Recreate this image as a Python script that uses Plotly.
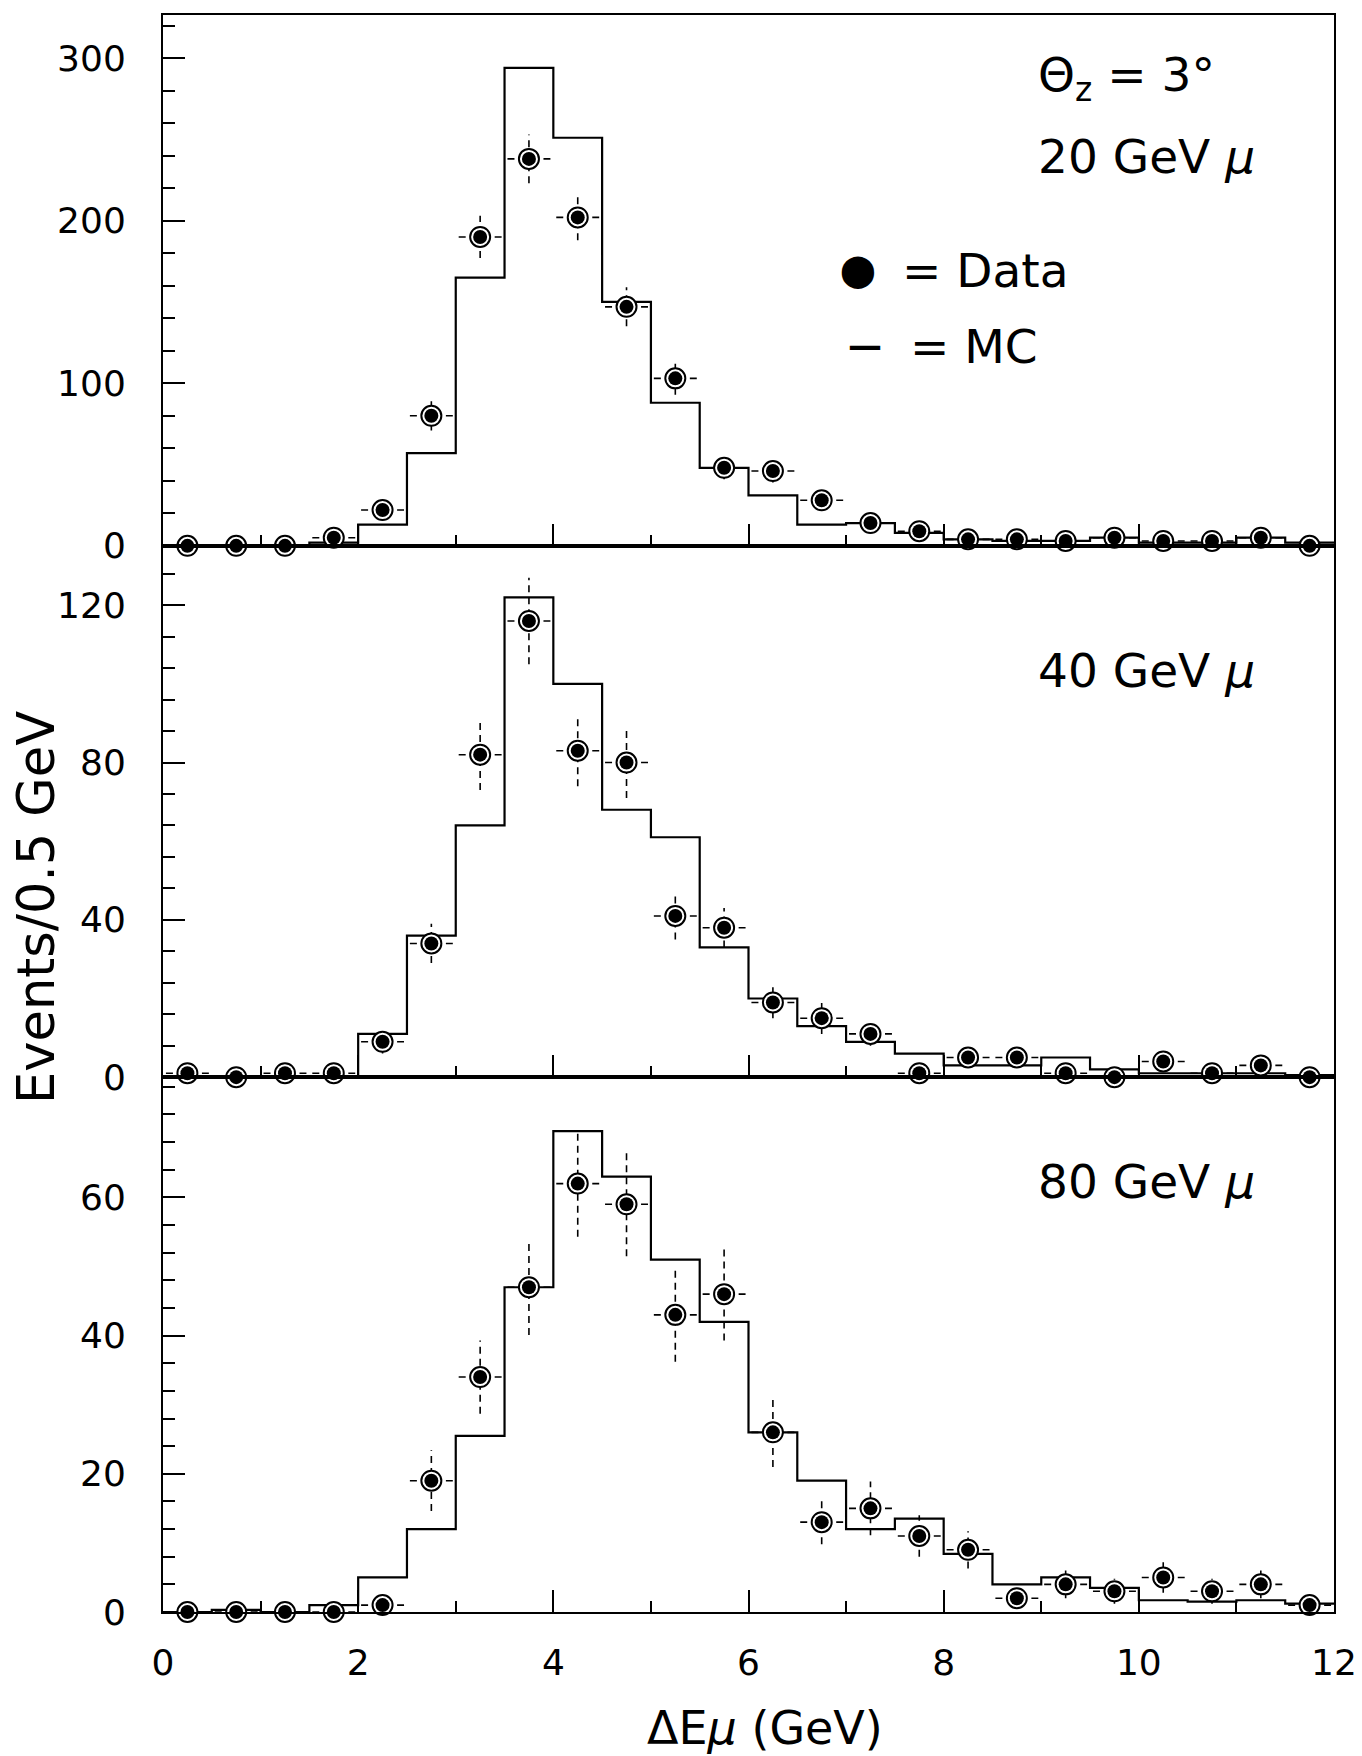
import plotly.graph_objects as go

# ---------------- data ----------------
bin_edges = [0, 0.5, 1, 1.5, 2, 2.5, 3, 3.5, 4, 4.5, 5, 5.5, 6, 6.5, 7, 7.5,
             8, 8.5, 9, 9.5, 10, 10.5, 11, 11.5, 12]
bin_centers = [0.25, 0.75, 1.25, 1.75, 2.25, 2.75, 3.25, 3.75, 4.25, 4.75, 5.25, 5.75,
               6.25, 6.75, 7.25, 7.75, 8.25, 8.75, 9.25, 9.75, 10.25, 10.75, 11.25, 11.75]

# 20 GeV muons
data_20 = [0, 0, 0, 5, 22, 80, 190, 238, 202, 147, 103, 48, 46, 28, 14, 9, 4, 4, 3, 5, 3, 3, 5, 0]
err_20 = [1, 1, 1, 2, 5, 9, 13, 15, 14, 12, 10, 7, 7, 5, 4, 3, 2, 2, 2, 2, 2, 2, 2, 1]
mc_20 = [0, 0, 0, 2, 13, 57, 165, 294, 251, 150, 88, 48, 31, 13, 14, 8, 4, 3, 3, 5, 2, 2, 5, 2]

# 40 GeV muons
data_40 = [1, 0, 1, 1, 9, 34, 82, 116, 83, 80, 41, 38, 19, 15, 11, 1, 5, 5, 1, 0, 4, 1, 3, 0]
err_40 = [1, 1, 1, 1, 3, 5, 9, 11, 9, 9, 6, 5, 4, 4, 3, 1, 2, 2, 1, 1, 2, 1, 2, 1]
mc_40 = [0, 0, 0, 0, 11, 36, 64, 122, 100, 68, 61, 33, 20, 13, 9, 6, 3, 3, 5, 2, 1, 1, 1, 0.5]

# 80 GeV muons
data_80 = [0, 0, 0, 0, 1, 19, 34, 47, 62, 59, 43, 46, 26, 13, 15, 11, 9, 2, 4, 3, 5, 3, 4, 1]
err_80 = [0.5, 0.5, 0.5, 0.5, 1, 4.4, 5.3, 6.9, 7.7, 7.5, 6.8, 6.7, 5, 3.2, 3.9, 3, 2.7,
          1.5, 2, 1.8, 2.2, 1.8, 2, 1]
mc_80 = [0, 0.3, 0, 1, 5, 12, 25.5, 47, 69.6, 63, 51, 42, 26, 19, 12, 13.5, 8.4, 4, 5,
         3.5, 1.7, 1.5, 1.7, 1.2]

panel_labels = ["20 GeV <i>μ</i>", "40 GeV <i>μ</i>", "80 GeV <i>μ</i>"]

# ---------------- style / geometry ----------------
FONT = "DejaVu Sans"
XERR_HALF = 0.22
OFF = 8                      # page body margin
W, H = 1354, 1748
ML = 163 - OFF
MT = 13 - OFF
MR = W - (1334 - OFF)
MB = H - (1612 - OFF)
PW, PH = W - ML - MR, H - MT - MB


def px_x(page_x):
    return (page_x - OFF - ML) / PW


def px_y(page_y):
    return (H - MB - (page_y - OFF)) / PH


panels = [
    dict(data=data_20, err=err_20, mc=mc_20, xa="x", ya="y",
         dom=[px_y(544.5), 1.0], rng=[0, 326.5], dtick=100, minor=20),
    dict(data=data_40, err=err_40, mc=mc_40, xa="x2", ya="y2",
         dom=[px_y(1076.5), px_y(544.5)], rng=[0, 135.1], dtick=40, minor=8),
    dict(data=data_80, err=err_80, mc=mc_80, xa="x3", ya="y3",
         dom=[0.0, px_y(1076.5)], rng=[0, 77.4], dtick=20, minor=4),
]

fig = go.Figure()

for p in panels:
    # MC histogram (step)
    fig.add_trace(go.Scatter(
        x=bin_edges, y=p["mc"] + [p["mc"][-1]], mode="lines", line_shape="hv",
        line=dict(color="black", width=2.2), xaxis=p["xa"], yaxis=p["ya"],
        showlegend=False, hoverinfo="skip"))
    # dashed error bars (vertical + horizontal)
    ex, ey = [], []
    for xc, yv, e in zip(bin_centers, p["data"], p["err"]):
        ex += [xc, xc, None, xc - XERR_HALF, xc + XERR_HALF, None]
        ey += [yv - e, yv + e, None, yv, yv, None]
    fig.add_trace(go.Scatter(
        x=ex, y=ey, mode="lines", line=dict(color="black", width=1.6, dash="7px,5px"),
        xaxis=p["xa"], yaxis=p["ya"], showlegend=False, hoverinfo="skip",
        connectgaps=False, cliponaxis=False))
    # data markers: ring + filled centre
    fig.add_trace(go.Scatter(
        x=bin_centers, y=p["data"], mode="markers",
        marker=dict(symbol="circle", size=20, color="white",
                    line=dict(color="black", width=2)),
        xaxis=p["xa"], yaxis=p["ya"], showlegend=False, cliponaxis=False))
    fig.add_trace(go.Scatter(
        x=bin_centers, y=p["data"], mode="markers",
        marker=dict(symbol="circle", size=14, color="black"),
        xaxis=p["xa"], yaxis=p["ya"], showlegend=False, cliponaxis=False))

axis_common = dict(showline=True, linecolor="black", linewidth=2, mirror=True,
                   showgrid=False, zeroline=False, ticks="inside", tickcolor="black",
                   tickwidth=2, ticklen=22)

layout = dict(
    width=W, height=H, margin=dict(l=ML, r=MR, t=MT, b=MB),
    paper_bgcolor="white", plot_bgcolor="white",
    font=dict(family=FONT, color="black"),
    showlegend=False,
)

for i, p in enumerate(panels):
    sfx = "" if i == 0 else str(i + 1)
    layout["xaxis" + sfx] = dict(
        axis_common, domain=[0, 1], anchor="y" + sfx, range=[0, 12],
        tick0=0, dtick=2, showticklabels=(i == 2), ticklabeloverflow="allow",
        tickfont=dict(size=36, family=FONT), ticklabelstandoff=18,
        minor=dict(dtick=1, ticks="inside", ticklen=11, tickwidth=1.5, tickcolor="black"),
        matches=None if i == 0 else "x")
    layout["yaxis" + sfx] = dict(
        axis_common, domain=p["dom"], anchor="x" + sfx, range=p["rng"],
        tick0=0, dtick=p["dtick"], tickfont=dict(size=36, family=FONT),
        ticklabelstandoff=28,
        minor=dict(dtick=p["minor"], ticks="inside", ticklen=12, tickwidth=1.5,
                   tickcolor="black"))

fig.update_layout(**layout)

ann_font = dict(family=FONT, size=47, color="black")
annotations = [
    dict(text="Θ<sub>z</sub> = 3°", x=px_x(1036), y=px_y(76)),
    dict(text=panel_labels[0], x=px_x(1036), y=px_y(155)),
    dict(text="= Data", x=px_x(900), y=px_y(269)),
    dict(text="= MC", x=px_x(908), y=px_y(345)),
    dict(text=panel_labels[1], x=px_x(1036), y=px_y(669)),
    dict(text=panel_labels[2], x=px_x(1036), y=px_y(1181)),
]
for a in annotations:
    fig.add_annotation(xref="paper", yref="paper", xanchor="left", yanchor="middle",
                       showarrow=False, font=ann_font, **a)

# legend symbols
fig.add_annotation(text="⬤", xref="paper", yref="paper", x=px_x(858), y=px_y(268),
                   xanchor="center", yanchor="middle", showarrow=False,
                   font=dict(family=FONT, size=32, color="black"))
fig.add_annotation(text="<b>—</b>", xref="paper", yref="paper", x=px_x(865), y=px_y(343),
                   xanchor="center", yanchor="middle", showarrow=False,
                   font=dict(family=FONT, size=34, color="black"))

fig.add_annotation(text="Events/0.5 GeV", xref="paper", yref="paper",
                   x=px_x(37), y=px_y(907), textangle=-90, showarrow=False,
                   xanchor="center", yanchor="middle",
                   font=dict(family=FONT, size=51, color="black"))
fig.add_annotation(text="ΔE<i>μ</i> (GeV)", xref="paper", yref="paper",
                   x=px_x(765), y=-MB / PH, showarrow=False, borderpad=0,
                   xanchor="center", yanchor="bottom",
                   font=dict(family=FONT, size=46, color="black"))

fig.write_html("out.html")
